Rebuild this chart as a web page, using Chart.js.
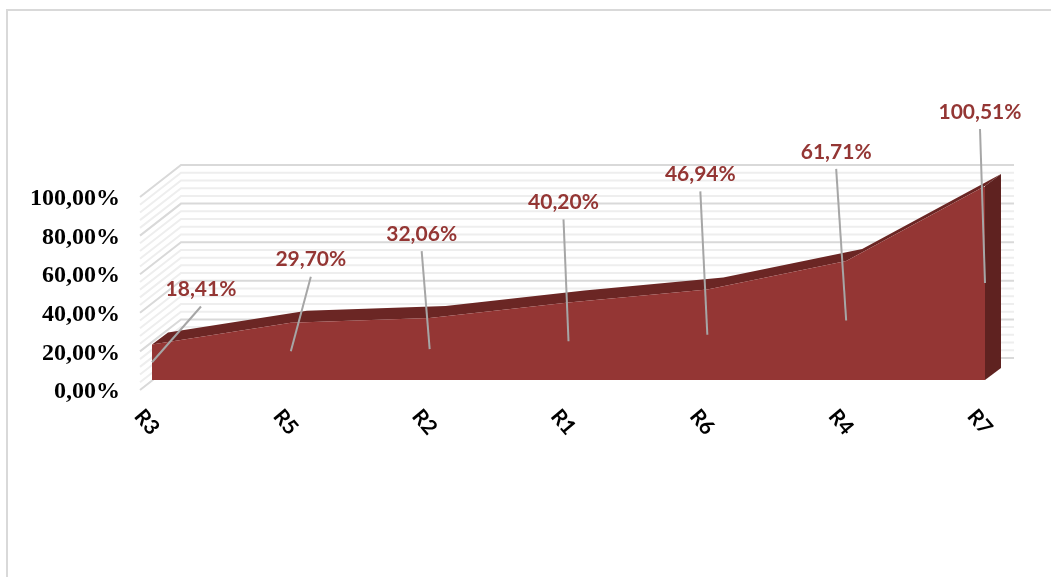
<!DOCTYPE html>
<html>
<head>
<meta charset="utf-8">
<style>
  html, body { margin: 0; padding: 0; background: #fff; }
  #frame { position: absolute; left: 6px; top: 9px; right: 0; height: 568px;
           border: solid #d9d9d9; border-width: 2px 0 0 2px; box-sizing: border-box; }
  canvas { position: absolute; left: 0; top: 0; }
</style>
</head>
<body>
<div id="frame"></div>
<canvas id="chart" width="1051" height="577"></canvas>
<script src="https://cdn.jsdelivr.net/npm/chart.js@4"></script>
<script>
const CATEGORIES = ['R3', 'R5', 'R2', 'R1', 'R6', 'R4', 'R7'];
const VALUES     = [18.41, 29.70, 32.06, 40.20, 46.94, 61.71, 100.51];

/* 3D look: depth of the area and of the walls, in px */
const AREA_DEPTH = { x: 16, y: -12 };
const WALL_BACK  = { x: 29, y: -22 };
const WALL_FRONT = { x: -12, y: 10 };
const WALL_RIGHT = 1014;

/* where each callout sits relative to its point */
const CALLOUT_SHIFT = [[49, -55], [20, -63], [-8, -84], [-5, -100], [-7, -115], [-10, -109], [-5, -74]];

const fmt = v => v.toFixed(2).replace('.', ',') + '%';

const fakeDepth = {
  id: 'fakeDepth',
  beforeDatasetsDraw(chart) {
    const { ctx, chartArea } = chart;
    const xs = chart.scales.x, ys = chart.scales.y;

    /* walls: minor lines every 4, major every 20 */
    for (let v = 0; v <= 100; v += 4) {
      const y = ys.getPixelForValue(v);
      const major = v % 20 === 0;
      ctx.strokeStyle = major ? '#d9d9d9' : '#eeeeee';
      ctx.lineWidth = 2;
      ctx.beginPath();
      ctx.moveTo(chartArea.left + WALL_FRONT.x, y + WALL_FRONT.y);
      ctx.lineTo(chartArea.left + WALL_BACK.x, y + WALL_BACK.y);
      ctx.lineTo(WALL_RIGHT, y + WALL_BACK.y);
      ctx.stroke();
    }

    /* top face of the area */
    ctx.fillStyle = '#6b2624';
    ctx.beginPath();
    VALUES.forEach((v, i) => {
      const px = xs.getPixelForValue(i), py = ys.getPixelForValue(v);
      if (i === 0) ctx.moveTo(px, py); else ctx.lineTo(px, py);
    });
    for (let i = VALUES.length - 1; i >= 0; i--) {
      ctx.lineTo(xs.getPixelForValue(i) + AREA_DEPTH.x, ys.getPixelForValue(VALUES[i]) + AREA_DEPTH.y);
    }
    ctx.closePath();
    ctx.fill();

    /* right side face */
    const last = VALUES.length - 1;
    const rx = xs.getPixelForValue(last), ry = ys.getPixelForValue(VALUES[last]), y0 = ys.getPixelForValue(0);
    ctx.fillStyle = '#5f2220';
    ctx.beginPath();
    ctx.moveTo(rx, y0);
    ctx.lineTo(rx + AREA_DEPTH.x, y0 + AREA_DEPTH.y);
    ctx.lineTo(rx + AREA_DEPTH.x, ry + AREA_DEPTH.y);
    ctx.lineTo(rx, ry);
    ctx.closePath();
    ctx.fill();
  },
  afterDatasetsDraw(chart) {
    const { ctx } = chart;
    const xs = chart.scales.x, ys = chart.scales.y;
    ctx.save();
    ctx.font = 'bold 21px Lato';
    ctx.textAlign = 'center';
    ctx.textBaseline = 'middle';
    VALUES.forEach((v, i) => {
      const px = xs.getPixelForValue(i), py = ys.getPixelForValue(v);
      const lx = px + CALLOUT_SHIFT[i][0], ly = py + CALLOUT_SHIFT[i][1];
      ctx.strokeStyle = '#a6a6a6';
      ctx.lineWidth = 2;
      ctx.beginPath();
      ctx.moveTo(lx, ly + 17);
      ctx.lineTo(px, ys.getPixelForValue(v / 2));
      ctx.stroke();
      ctx.fillStyle = '#943634';
      ctx.fillText(fmt(v), lx, ly);
    });
    ctx.restore();
  },
};

new Chart(document.getElementById('chart'), {
  type: 'line',
  data: {
    labels: CATEGORIES,
    datasets: [{
      data: VALUES,
      borderColor: '#943634',
      borderWidth: 0,
      backgroundColor: '#943634',
      fill: 'origin',
      pointRadius: 0,
      tension: 0,
      clip: false,
    }],
  },
  options: {
    animation: false,
    responsive: false,
    layout: { padding: { left: 0, right: 66, top: 187, bottom: 0 } },
    plugins: { legend: { display: false }, tooltip: { enabled: false } },
    scales: {
      x: {
        offset: false,
        afterFit(s) { s.height = 197; },
        border: { display: false },
        grid: { display: false, drawTicks: false },
        ticks: {
          autoSkip: false, minRotation: -50, maxRotation: -50, padding: 44, labelOffset: 3,
          color: '#000', font: { family: 'Lato', size: 21, weight: 'bold' },
        },
      },
      y: {
        min: 0,
        max: 100,
        afterFit(s) { s.width = 152; },
        border: { display: false },
        grid: { display: false, drawTicks: false },
        ticks: {
          stepSize: 20, padding: 32, labelOffset: 12,
          color: '#000', font: { family: 'Liberation Serif', size: 24, weight: 'bold' },
          callback: fmt,
        },
      },
    },
  },
  plugins: [fakeDepth],
});
</script>
</body>
</html>
